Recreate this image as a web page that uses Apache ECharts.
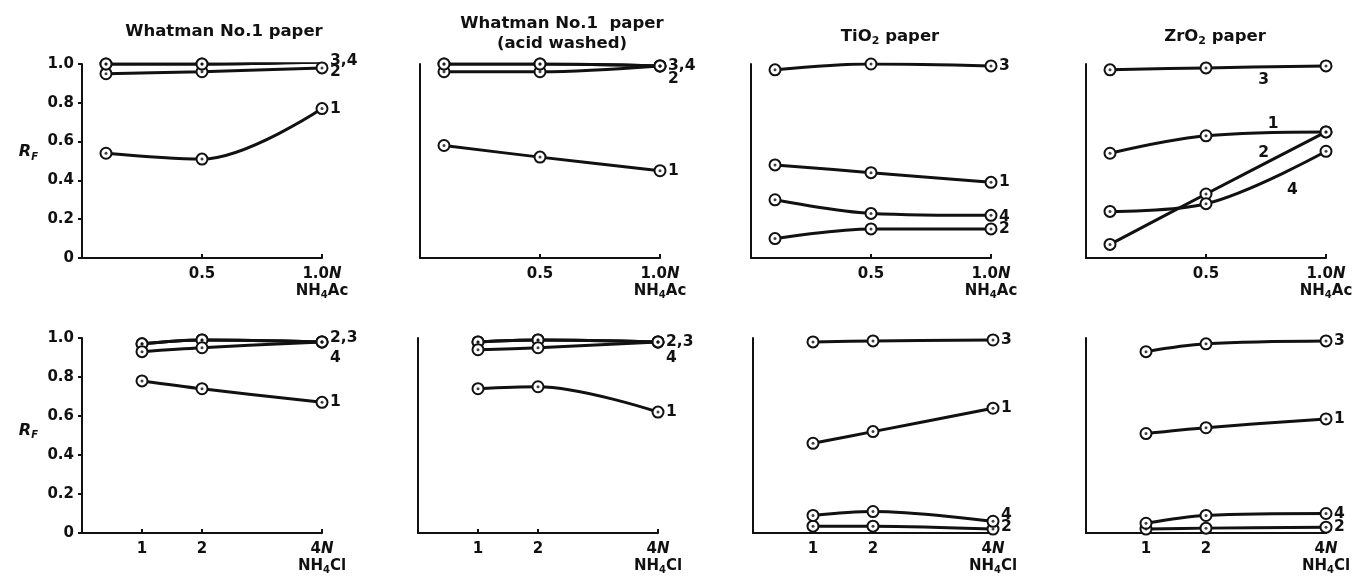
<!DOCTYPE html>
<html>
<head>
<meta charset="utf-8">
<script src="https://cdn.jsdelivr.net/npm/echarts@6/dist/echarts.min.js"></script>
<style>
  html, body { margin: 0; padding: 0; background: #fff; }
  #chart { width: 1365px; height: 577px; }
</style>
</head>
<body>
<div id="chart"></div>
<script>
// concentrations (x) and tick labels
const acConc = [0.1, 0.5, 1.0]
const clConc = [1, 2, 4]
const acTicks = [0.5, 1.0]
const clTicks = [1, 2, 4]
const rfTicks = [0, 0.2, 0.4, 0.6, 0.8, 1.0]

// RF of spots 1..4 (one row per spot) at each concentration
const whatmanAc = [[0.54, 0.51, 0.77], [0.95, 0.96, 0.98], [1.0, 1.0, 1.01], [1.0, 1.0, 1.01]]
const washedAc = [[0.58, 0.52, 0.45], [0.96, 0.96, 0.99], [1.0, 1.0, 0.99], [1.0, 1.0, 0.99]]
const tio2Ac = [[0.48, 0.44, 0.39], [0.10, 0.15, 0.15], [0.97, 1.0, 0.99], [0.30, 0.23, 0.22]]
const zro2Ac = [[0.54, 0.63, 0.65], [0.07, 0.33, 0.65], [0.97, 0.98, 0.99], [0.24, 0.28, 0.55]]
const whatmanCl = [[0.78, 0.74, 0.67], [0.97, 0.99, 0.98], [0.97, 0.99, 0.98], [0.93, 0.95, 0.98]]
const washedCl = [[0.74, 0.75, 0.62], [0.98, 0.99, 0.98], [0.98, 0.99, 0.98], [0.94, 0.95, 0.98]]
const tio2Cl = [[0.46, 0.52, 0.64], [0.035, 0.035, 0.02], [0.98, 0.985, 0.99], [0.09, 0.11, 0.06]]
const zro2Cl = [[0.51, 0.54, 0.585], [0.02, 0.025, 0.03], [0.93, 0.97, 0.985], [0.05, 0.09, 0.10]]

const titles = ['Whatman No.1 paper', 'Whatman No.1  paper\n(acid washed)', 'TiO{s|2} paper', 'ZrO{s|2} paper']

const FONT = 'DejaVu Sans'
const ink = '#111'
const txt = { fontFamily: FONT, fontWeight: 'bold', color: ink }

const rows = [
  { top: 64, height: 194, x: acConc, max: 1, ticks: acTicks, fmt: v => v.toFixed(1), unit: 'NH{s|4}Ac' },
  { top: 338, height: 195, x: clConc, max: 4, ticks: clTicks, fmt: v => String(v), unit: 'NH{s|4}Cl' }
]
const lefts = [[82, 420, 751, 1086], [82, 418, 753, 1086]]
const titlePos = [[219, 17], [557, 9], [885, 22], [1210, 22]]

// labels for spots 1..4, with [dx, dy] nudges
const panels = [
  { row: 0, col: 0, data: whatmanAc, labels: ['1', '2', '3,4', ''], offs: [[0, 0], [0, 4], [0, -1], [0, 0]] },
  { row: 0, col: 1, data: washedAc, labels: ['1', '2', '3,4', ''], offs: [[0, 0], [0, 13], [0, 0], [0, 0]] },
  { row: 0, col: 2, data: tio2Ac, labels: ['1', '2', '3', '4'], offs: [[0, 0], [0, 0], [0, 0], [0, 2]] },
  { row: 0, col: 3, data: zro2Ac, labels: ['', '', '', ''], offs: [[0, 0], [0, 0], [0, 0], [0, 0]],
    marks: [['3', 0.74, 0.92], ['1', 0.78, 0.69], ['2', 0.74, 0.54], ['4', 0.86, 0.35]] },
  { row: 1, col: 0, data: whatmanCl, labels: ['1', '2,3', '', '4'], offs: [[0, 0], [0, -4], [0, 0], [0, 16]] },
  { row: 1, col: 1, data: washedCl, labels: ['1', '2,3', '', '4'], offs: [[0, 0], [0, 0], [0, 0], [0, 16]] },
  { row: 1, col: 2, data: tio2Cl, labels: ['1', '2', '3', '4'], offs: [[0, 0], [0, -2], [0, 0], [0, -6]] },
  { row: 1, col: 3, data: zro2Cl, labels: ['1', '2', '3', '4'], offs: [[0, 0], [0, 0], [0, 0], [0, 0]] }
]

const chart = echarts.init(document.getElementById('chart'))

const option = {
  animation: false,
  backgroundColor: '#fff',
  title: titles.map((t, c) => ({
    text: t,
    left: titlePos[c][0],
    top: titlePos[c][1],
    textAlign: 'center',
    textStyle: {
      ...txt, fontSize: 16.5, lineHeight: 20,
      rich: { s: { ...txt, fontSize: 11, verticalAlign: 'bottom', lineHeight: 14 } }
    }
  })),
  grid: [],
  xAxis: [],
  yAxis: [],
  series: []
}

panels.forEach((p, i) => {
  const r = rows[p.row]
  const axisLine = { show: true, lineStyle: { color: ink, width: 2 } }
  option.grid.push({ left: lefts[p.row][p.col], top: r.top, width: 240, height: r.height })

  option.xAxis.push({
    type: 'value', gridIndex: i, min: 0, max: r.max,
    axisLine,
    axisTick: { show: true, inside: true, length: 4, customValues: r.ticks, lineStyle: { color: ink, width: 2 } },
    axisLabel: {
      ...txt, fontSize: 15, lineHeight: 17, margin: 8, customValues: r.ticks, showMaxLabel: true,
      formatter: v => v === r.max ? r.fmt(v) + '{i|N}\n' + r.unit : r.fmt(v),
      rich: {
        i: { ...txt, fontSize: 15, fontStyle: 'italic', lineHeight: 17 },
        s: { ...txt, fontSize: 10, verticalAlign: 'bottom', lineHeight: 12 }
      }
    },
    splitLine: { show: false }
  })

  const first = p.col === 0
  option.yAxis.push({
    type: 'value', gridIndex: i, min: 0, max: 1, interval: 0.2,
    axisLine,
    axisTick: { show: first, length: 4, lineStyle: { color: ink, width: 2 } },
    axisLabel: { show: first, ...txt, fontSize: 15, margin: 8, customValues: rfTicks, formatter: v => v === 0 ? '0' : v.toFixed(1) },
    splitLine: { show: false },
    name: first ? '{r|R}{f|F}' : '',
    nameLocation: 'middle',
    nameRotate: 0,
    nameGap: 44,
    nameTextStyle: {
      padding: [0, 0, p.row === 0 ? 18 : 10, 0],
      rich: {
        r: { ...txt, fontSize: 16, fontStyle: 'italic', lineHeight: 20 },
        f: { ...txt, fontSize: 10, fontStyle: 'italic', verticalAlign: 'bottom', lineHeight: 12 }
      }
    }
  })

  p.data.forEach((vals, k) => {
    const s = {
      type: 'line', xAxisIndex: i, yAxisIndex: i,
      data: vals.map((v, j) => [r.x[j], v]),
      smooth: 0.35,
      symbol: 'emptyCircle', symbolSize: 11,
      lineStyle: { color: ink, width: 3 },
      itemStyle: { color: ink, borderWidth: 2.3 },
      endLabel: { show: !!p.labels[k], formatter: p.labels[k], offset: p.offs[k], distance: 8, ...txt, fontSize: 15.5 }
    }
    if (k === 0 && p.marks) {
      s.markPoint = {
        symbol: 'circle', symbolSize: 1, itemStyle: { color: 'rgba(0,0,0,0)' },
        label: { ...txt, fontSize: 15.5 },
        data: p.marks.map(m => ({ coord: [m[1], m[2]], label: { formatter: m[0] } }))
      }
    }
    option.series.push(s)
  })

  // centre dots of the circled markers
  option.series.push({
    type: 'scatter', xAxisIndex: i, yAxisIndex: i, silent: true, z: 5,
    symbolSize: 3, itemStyle: { color: ink },
    data: p.data.flatMap(vals => vals.map((v, j) => [r.x[j], v]))
  })
})

chart.setOption(option)
</script>
</body>
</html>
